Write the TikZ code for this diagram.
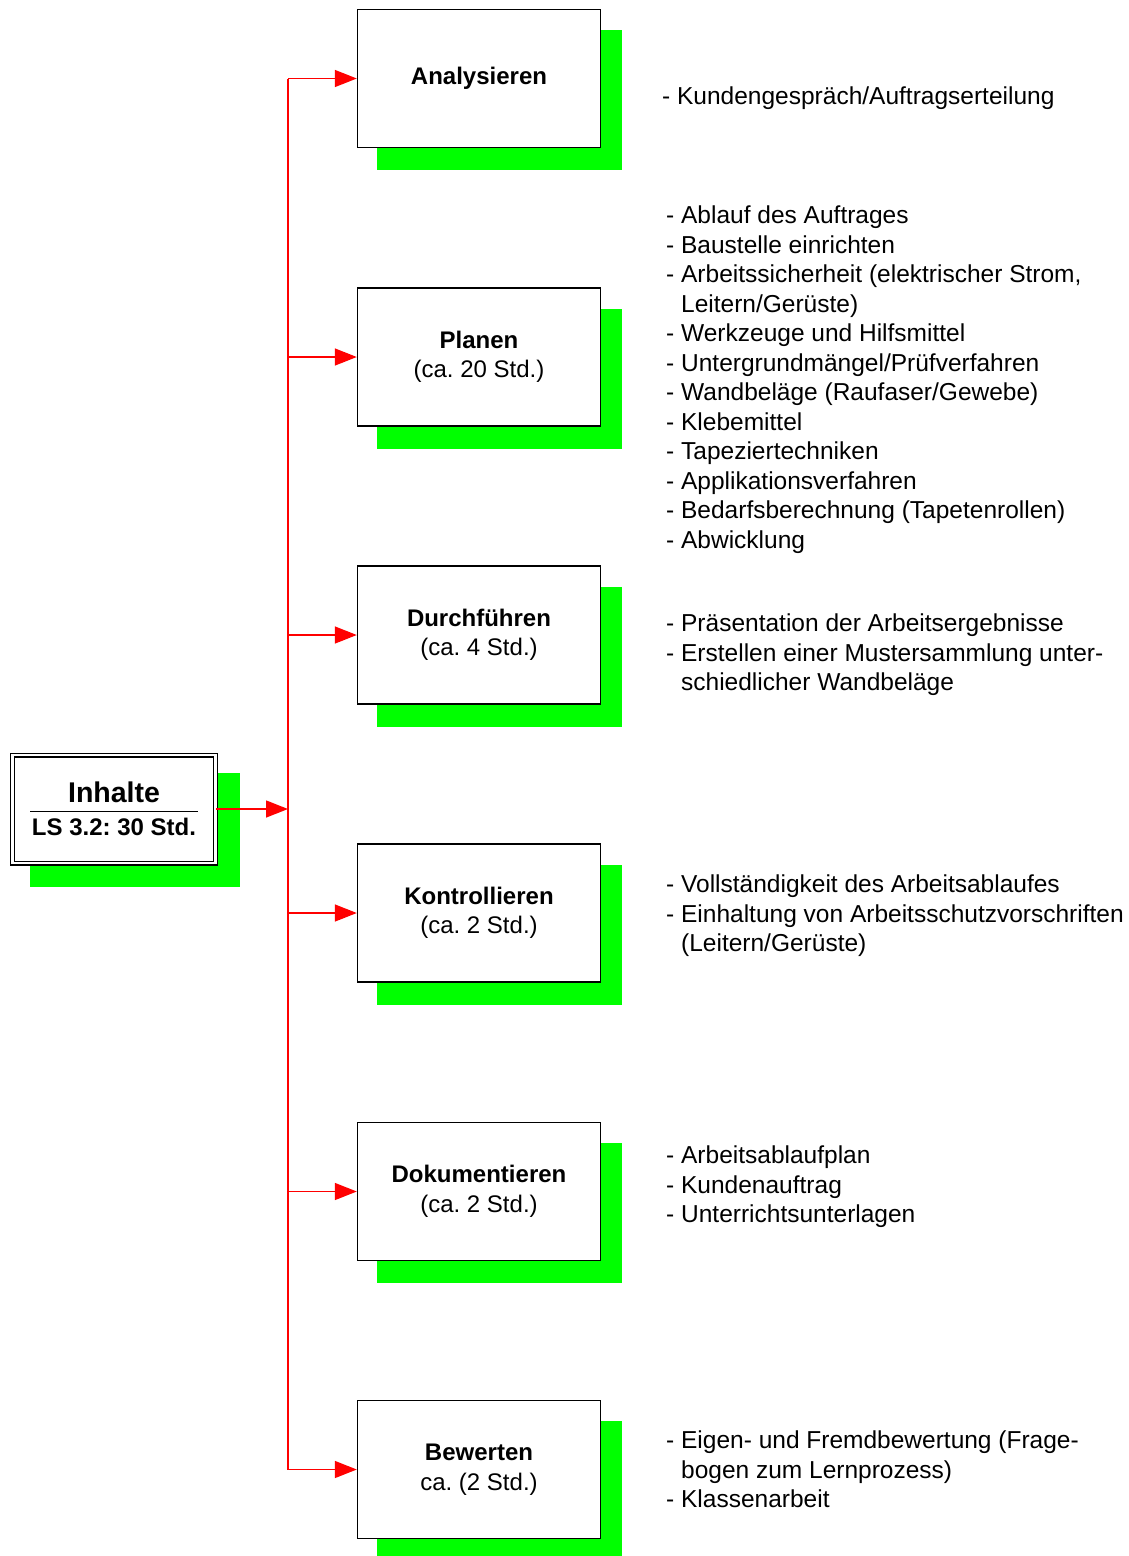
\documentclass[tikz,border=0pt]{standalone}
\usepackage{fontspec}
\setmainfont{Liberation Sans}
\usetikzlibrary{arrows.meta,backgrounds}
\definecolor{shadowgreen}{RGB}{0,255,0}
\newcommand{\cont}{\hphantom{-\ }}
\frenchspacing
\begin{document}
\frenchspacing
\begin{tikzpicture}[x=1pt,y=-1pt,
  stepbox/.style={draw=black,line width=1.4pt,fill=white,minimum width=243pt,minimum height=138pt,inner sep=0pt,align=center,font=\fontsize{24}{29.5}\selectfont},
  conn/.style={draw=red,line width=1.5pt,-{Triangle[length=22pt,width=17pt]}},
  trunkline/.style={draw=red,line width=1.5pt},
  listtext/.style={anchor=base west,inner sep=0pt,font=\fontsize{24.5}{29.5}\selectfont},
  shadowfill/.style={fill=shadowgreen}]
\useasboundingbox (0,0) rectangle (1129,1556);

% step boxes
\node[stepbox] (A) at (479,78.5) {\textbf{Analysieren}};
\node[stepbox] (P) at (479,357) {\textbf{Planen}\\(ca. 20 Std.)};
\node[stepbox] (D) at (479,635) {\textbf{Durchführen}\\(ca. 4 Std.)};
\node[stepbox] (K) at (479,913) {\textbf{Kontrollieren}\\(ca. 2 Std.)};
\node[stepbox] (Do) at (479,1191.5) {\textbf{Dokumentieren}\\(ca. 2 Std.)};
\node[stepbox] (B) at (479,1469.5) {\textbf{Bewerten}\\ca. (2 Std.)};

% Inhalte box
\node[draw=black,double=white,double distance=2.6pt,line width=1.2pt,fill=white,minimum width=203pt,minimum height=108pt,inner sep=0pt] (inh) at (114,809) {};
\node[anchor=base,inner sep=0pt,font=\fontsize{28.5}{30}\selectfont\bfseries] (inhT) at (114,802.7) {Inhalte};
\draw[line width=1.2pt] (30,811.7) -- (198,811.7);
\node[anchor=base,inner sep=0pt,font=\fontsize{24}{28}\selectfont\bfseries] (inhS) at (114,835) {LS 3.2: 30 Std.};

% shadows
\begin{scope}[on background layer]
  \foreach \n in {A,P,D,K,Do,B}{
    \fill[shadowfill] ([shift={(-102,-48.5)}]\n.center) rectangle ([shift={(143,91.5)}]\n.center);
  }
  \fill[shadowfill] ([shift={(-84,-36)}]inh.center) rectangle ([shift={(126,78)}]inh.center);
\end{scope}

% connectors
\coordinate (ttop) at (288,78.5);
\coordinate (tbot) at (288,1469.5);
\draw[trunkline] (ttop) -- (tbot);
\draw[conn] (inh.east) -- (inh.east -| ttop);
\foreach \n in {A,P,D,K,Do,B}{
  \draw[conn] (\n.west -| ttop) -- (\n.west);
}

% lists
\node[listtext] (lA) at (662,104.5) {\begin{tabular}[t]{@{}l@{}}- Kundengespräch/Auftragserteilung\end{tabular}};
\node[listtext] (lP) at (666,223.5) {\begin{tabular}[t]{@{}l@{}}
- Ablauf des Auftrages\\
- Baustelle einrichten\\
- Arbeitssicherheit (elektrischer Strom,\\
\cont Leitern/Gerüste)\\
- Werkzeuge und Hilfsmittel\\
- Untergrundmängel/Prüfverfahren\\
- Wandbeläge (Raufaser/Gewebe)\\
- Klebemittel\\
- Tapeziertechniken\\
- Applikationsverfahren\\
- Bedarfsberechnung (Tapetenrollen)\\
- Abwicklung\end{tabular}};
\node[listtext] (lD) at (666,631.5) {\begin{tabular}[t]{@{}l@{}}
- Präsentation der Arbeitsergebnisse\\
- Erstellen einer Mustersammlung unter-\\
\cont schiedlicher Wandbeläge\end{tabular}};
\node[listtext] (lK) at (666,892.5) {\begin{tabular}[t]{@{}l@{}}
- Vollständigkeit des Arbeitsablaufes\\
- Einhaltung von Arbeitsschutzvorschriften\\
\cont (Leitern/Gerüste)\end{tabular}};
\node[listtext] (lDo) at (666,1163.5) {\begin{tabular}[t]{@{}l@{}}
- Arbeitsablaufplan\\
- Kundenauftrag\\
- Unterrichtsunterlagen\end{tabular}};
\node[listtext] (lB) at (666,1448.5) {\begin{tabular}[t]{@{}l@{}}
- Eigen- und Fremdbewertung (Frage-\\
\cont bogen zum Lernprozess)\\
- Klassenarbeit\end{tabular}};
\end{tikzpicture}
\end{document}
